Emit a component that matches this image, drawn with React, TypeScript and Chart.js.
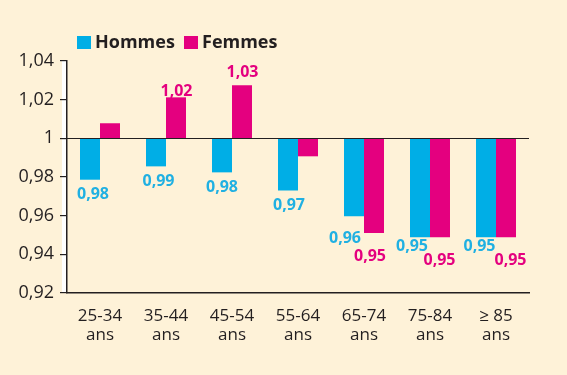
import React, { useEffect, useRef } from 'react';
import { Chart, registerables } from 'chart.js';
Chart.register(...registerables);

const categories = [
  ['25-34', 'ans'],
  ['35-44', 'ans'],
  ['45-54', 'ans'],
  ['55-64', 'ans'],
  ['65-74', 'ans'],
  ['75-84', 'ans'],
  ['≥ 85', 'ans'],
];
const seriesNames = ['Hommes', 'Femmes'];
const hommes = [0.9786, 0.9855, 0.9824, 0.973, 0.9597, 0.9488, 0.9488];
const femmes = [1.0078, 1.0212, 1.0275, 0.9907, 0.951, 0.9488, 0.9488];
const hommesLabels = ['0,98', '0,99', '0,98', '0,97', '0,96', '0,95', '0,95'];
const femmesLabels = ['', '1,02', '1,03', '', '0,95', '0,95', '0,95'];
const baseValue = 1;
const yMin = 0.92;
const yMax = 1.04;
const yStep = 0.02;

// style: label offsets from bar end (px)
const hOffsets = [[3, 14], [2.5, 13.5], [0, 13.7], [1, 13.3], [-9, 21], [-8, 8], [-6.5, 8]];
const fOffsets = [[0, 0], [0.5, -7.3], [0.5, -13.5], [0, 0], [-4, 22.4], [-0.5, 21.7], [4.5, 21.7]];

const CYAN = '#00AEE6';
const CYAN_TXT = '#20B0E2';
const MAGENTA = '#E4007F';
const DARK = '#231F20';
const BG = '#FEF2D8';
const FONT = '"Open Sans", "DejaVu Sans", sans-serif';

const decoPlugin = {
  id: 'deco',
  beforeDraw(chart: any) {
    const { ctx, chartArea } = chart;
    ctx.save();
    ctx.fillStyle = BG;
    ctx.fillRect(0, 0, chart.width, chart.height);
    ctx.fillStyle = '#FFFFFF';
    ctx.fillRect(chartArea.left - 5, chartArea.top, 5, chartArea.bottom - chartArea.top);
    ctx.restore();
  },
  afterDatasetsDraw(chart: any) {
    const { ctx, chartArea, scales } = chart;
    ctx.save();
    const y1 = Math.round(scales.y.getPixelForValue(baseValue)) + 0.5;
    ctx.strokeStyle = DARK;
    ctx.lineWidth = 1.2;
    ctx.beginPath();
    ctx.moveTo(chartArea.left, y1);
    ctx.lineTo(chartArea.right, y1);
    ctx.stroke();

    ctx.font = 'bold 16px ' + FONT;
    ctx.textAlign = 'center';
    ctx.textBaseline = 'alphabetic';
    const sets = [
      { labels: hommesLabels, values: hommes, offs: hOffsets, color: CYAN_TXT },
      { labels: femmesLabels, values: femmes, offs: fOffsets, color: MAGENTA },
    ];
    sets.forEach((s, di) => {
      const meta = chart.getDatasetMeta(di);
      meta.data.forEach((el: any, i: number) => {
        const t = s.labels[i];
        if (!t) return;
        const [dx, dy] = s.offs[i];
        const yEnd = scales.y.getPixelForValue(s.values[i]);
        ctx.fillStyle = s.color;
        ctx.fillText(t, el.x + dx, yEnd + dy + 5.7);
      });
    });

    // legend
    const colors = [CYAN, MAGENTA];
    const xs = [77, 184];
    ctx.font = 'bold 18px ' + FONT;
    ctx.textAlign = 'left';
    seriesNames.forEach((n, i) => {
      ctx.fillStyle = colors[i];
      ctx.fillRect(xs[i], 36, 14, 13);
      ctx.fillStyle = DARK;
      ctx.fillText(n, xs[i] + 18, 48);
    });
    ctx.restore();
  },
};

export default function App() {
  const ref = useRef<HTMLCanvasElement>(null);
  useEffect(() => {
    if (!ref.current) return;
    const chart = new Chart(ref.current, {
      type: 'bar',
      data: {
        labels: categories,
        datasets: [
          {
            label: seriesNames[0],
            data: hommes.map((v) => [baseValue, v]) as any,
            backgroundColor: CYAN,
            borderWidth: 0,
          },
          {
            label: seriesNames[1],
            data: femmes.map((v) => [baseValue, v]) as any,
            backgroundColor: MAGENTA,
            borderWidth: 0,
          },
        ],
      },
      options: {
        responsive: false,
        animation: false,
        layout: { padding: { top: 61, right: 38, bottom: 0, left: 0 } },
        plugins: { legend: { display: false }, tooltip: { enabled: false } },
        datasets: { bar: { categoryPercentage: 0.606, barPercentage: 1 } },
        scales: {
          x: {
            grid: { display: false, drawTicks: false },
            border: { display: true, color: DARK, width: 1.5 },
            ticks: {
              color: DARK,
              font: { family: FONT, size: 17, lineHeight: 1.12 },
              padding: 14,
              maxRotation: 0,
              autoSkip: false,
            },
            afterFit: (s: any) => {
              s.height = 82;
            },
          },
          y: {
            min: yMin,
            max: yMax,
            grid: { display: true, drawOnChartArea: false, drawTicks: true, tickLength: 7, color: DARK, lineWidth: 1.2 },
            border: { display: true, color: DARK, width: 1.5 },
            ticks: {
              stepSize: yStep,
              color: DARK,
              padding: 6,
              font: { family: FONT, size: 18 },
              callback: (v: any) =>
                Math.abs(v - 1) < 1e-9 ? '1' : Number(v).toFixed(2).replace('.', ','),
            },
            afterFit: (s: any) => {
              s.width = 67;
            },
          },
        },
      },
      plugins: [decoPlugin],
    });
    return () => chart.destroy();
  }, []);
  return (
    <div style={{ position: 'fixed', left: 0, top: 0, width: 567, height: 375, background: BG }}>
      <canvas ref={ref} width={567} height={375} />
    </div>
  );
}
